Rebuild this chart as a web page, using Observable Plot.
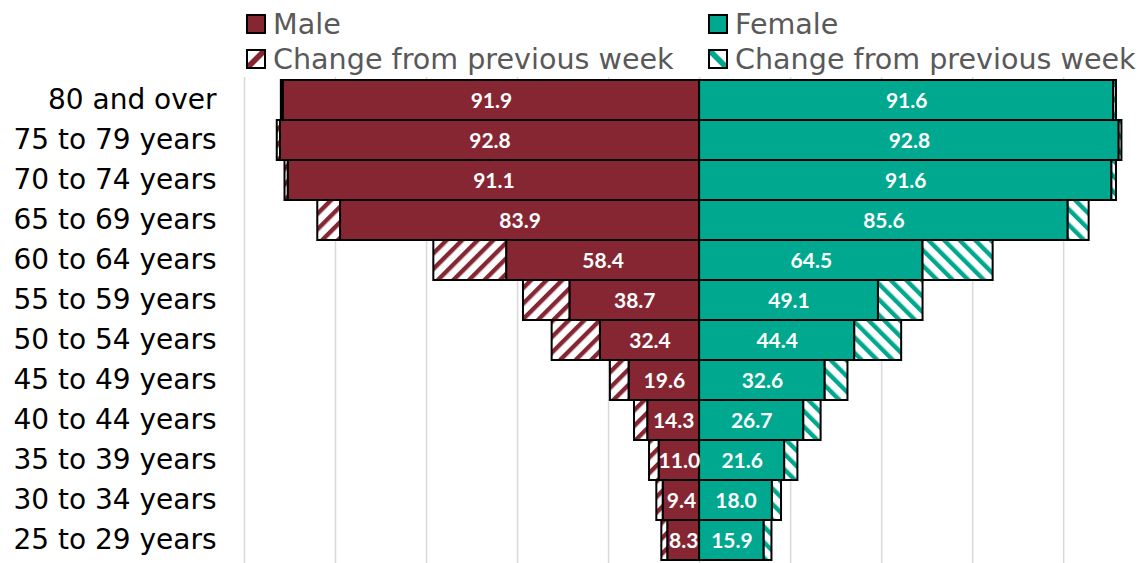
<!DOCTYPE html>
<html>
<head>
<meta charset="utf-8">
<script src="https://cdn.jsdelivr.net/npm/d3@7"></script>
<script src="https://cdn.jsdelivr.net/npm/@observablehq/plot@0.6"></script>
<style>
  html, body { margin: 0; padding: 0; background: #ffffff; }
  #wrap { position: relative; width: 1141px; height: 563px; overflow: hidden; font-family: "DejaVu Sans", sans-serif; }
  #legend { position: relative; width: 1141px; height: 77px; }
  .lg { position: absolute; display: flex; align-items: center; font-size: 28.6px; color: #595959; line-height: 1; white-space: nowrap; }
  .lg svg { margin-right: 7px; flex: none; }
  #chart svg { display: block; }
</style>
</head>
<body>
<svg width="0" height="0" style="position:absolute">
  <defs>
    <pattern id="hatchM" patternUnits="userSpaceOnUse" width="11" height="11" patternTransform="rotate(45)">
      <rect width="11" height="11" fill="#ffffff"></rect>
      <rect width="4.4" height="11" fill="#862633"></rect>
    </pattern>
    <pattern id="hatchF" patternUnits="userSpaceOnUse" width="11" height="11" patternTransform="rotate(-45)">
      <rect width="11" height="11" fill="#ffffff"></rect>
      <rect width="4.4" height="11" fill="#00a88f"></rect>
    </pattern>
  </defs>
</svg>
<div id="wrap">
  <div id="legend"></div>
  <div id="chart"></div>
</div>
<script>
// ---- Data ----
const ages = ["80 and over", "75 to 79 years", "70 to 74 years", "65 to 69 years", "60 to 64 years",
  "55 to 59 years", "50 to 54 years", "45 to 49 years", "40 to 44 years", "35 to 39 years",
  "30 to 34 years", "25 to 29 years"];
const maleValue = [91.9, 92.8, 91.1, 83.9, 58.4, 38.7, 32.4, 19.6, 14.3, 11.0, 9.4, 8.3];
const maleChange = [0.4, 0.7, 0.7, 5.0, 16.0, 10.2, 10.6, 4.1, 2.9, 2.1, 1.4, 1.3];
const femaleValue = [91.6, 92.8, 91.6, 85.6, 64.5, 49.1, 44.4, 32.6, 26.7, 21.6, 18.0, 15.9];
const femaleChange = [0.6, 0.6, 1.0, 4.6, 15.4, 9.8, 10.3, 5.0, 3.8, 2.9, 2.0, 1.7];
const gridTicks = [-100, -80, -60, -40, -20, 0, 20, 40, 60, 80];
const seriesNames = ["Male", "Female"];
const changeName = "Change from previous week";

const MAROON = "#862633";
const TEAL = "#00a88f";

// ---- Legend ----
const legend = document.getElementById("legend");
function swatch(kind, color) {
  const ns = "http://www.w3.org/2000/svg";
  const s = document.createElementNS(ns, "svg");
  s.setAttribute("width", 20); s.setAttribute("height", 20);
  const r = document.createElementNS(ns, "rect");
  r.setAttribute("x", 1); r.setAttribute("y", 1); r.setAttribute("width", 18); r.setAttribute("height", 18);
  r.setAttribute("fill", kind === "solid" ? color : "#ffffff");
  r.setAttribute("stroke", "#000"); r.setAttribute("stroke-width", 2);
  s.appendChild(r);
  if (kind !== "solid") {
    const p = document.createElementNS(ns, "path");
    p.setAttribute("d", kind === "up" ? "M2,14 L14,2 L18,2 L18,6 L6,18 L2,18 Z" : "M2,2 L6,2 L18,14 L18,18 L14,18 L2,6 Z");
    p.setAttribute("fill", color);
    s.appendChild(p);
    const r2 = r.cloneNode(); r2.setAttribute("fill", "none"); s.appendChild(r2);
  }
  return s;
}
function addLegend(x, y, kind, color, label) {
  const d = document.createElement("div");
  d.className = "lg";
  d.style.left = x + "px"; d.style.top = y + "px";
  d.appendChild(swatch(kind, color));
  const t = document.createElement("span"); t.textContent = label;
  d.appendChild(t);
  legend.appendChild(d);
}
addLegend(246, 10, "solid", MAROON, seriesNames[0]);
addLegend(246, 45, "up", MAROON, changeName);
addLegend(708, 10, "solid", TEAL, seriesNames[1]);
addLegend(708, 45, "down", TEAL, changeName);

// ---- Chart ----
const rows = ages.map((age, i) => ({
  age,
  m: maleValue[i], mc: maleChange[i],
  f: femaleValue[i], fc: femaleChange[i]
}));

const chart = Plot.plot({
  width: 1141,
  height: 486,
  marginLeft: 244,
  marginRight: 0,
  marginTop: 0,
  marginBottom: 0,
  style: { fontFamily: "DejaVu Sans, sans-serif", color: "#000", background: "transparent", overflow: "visible" },
  x: { domain: [-100, 97.1], axis: null },
  y: { domain: ages, padding: 0, label: null, axis: null },
  marks: [
    Plot.ruleX(gridTicks, { stroke: "#d9d9d9", strokeWidth: 1.5 }),
    // Male previous-week (solid) and change (hatched)
    Plot.barX(rows, { y: "age", x1: 0, x2: d => -(d.m - d.mc), fill: MAROON, stroke: "#000", strokeWidth: 2 }),
    Plot.barX(rows, { y: "age", x1: d => -(d.m - d.mc), x2: d => -d.m, fill: "url(#hatchM)", stroke: "#000", strokeWidth: 2 }),
    // Female
    Plot.barX(rows, { y: "age", x1: 0, x2: d => d.f - d.fc, fill: TEAL, stroke: "#000", strokeWidth: 2 }),
    Plot.barX(rows, { y: "age", x1: d => d.f - d.fc, x2: d => d.f, fill: "url(#hatchF)", stroke: "#000", strokeWidth: 2 }),
    // Value labels
    Plot.text(rows, { y: "age", x: d => -(d.m - d.mc) / 2, text: d => d.m.toFixed(1), fill: "#fff",
      fontSize: 21, fontWeight: "bold", fontFamily: "Lato, sans-serif", dy: 1 }),
    Plot.text(rows, { y: "age", x: d => (d.f - d.fc) / 2, text: d => d.f.toFixed(1), fill: "#fff",
      fontSize: 21, fontWeight: "bold", fontFamily: "Lato, sans-serif", dy: 1 }),
    Plot.axisY({ tickSize: 0, tickPadding: 28, fontSize: 28, fill: "#000", label: null })
  ]
});
document.getElementById("chart").appendChild(chart);
</script>
</body>
</html>
